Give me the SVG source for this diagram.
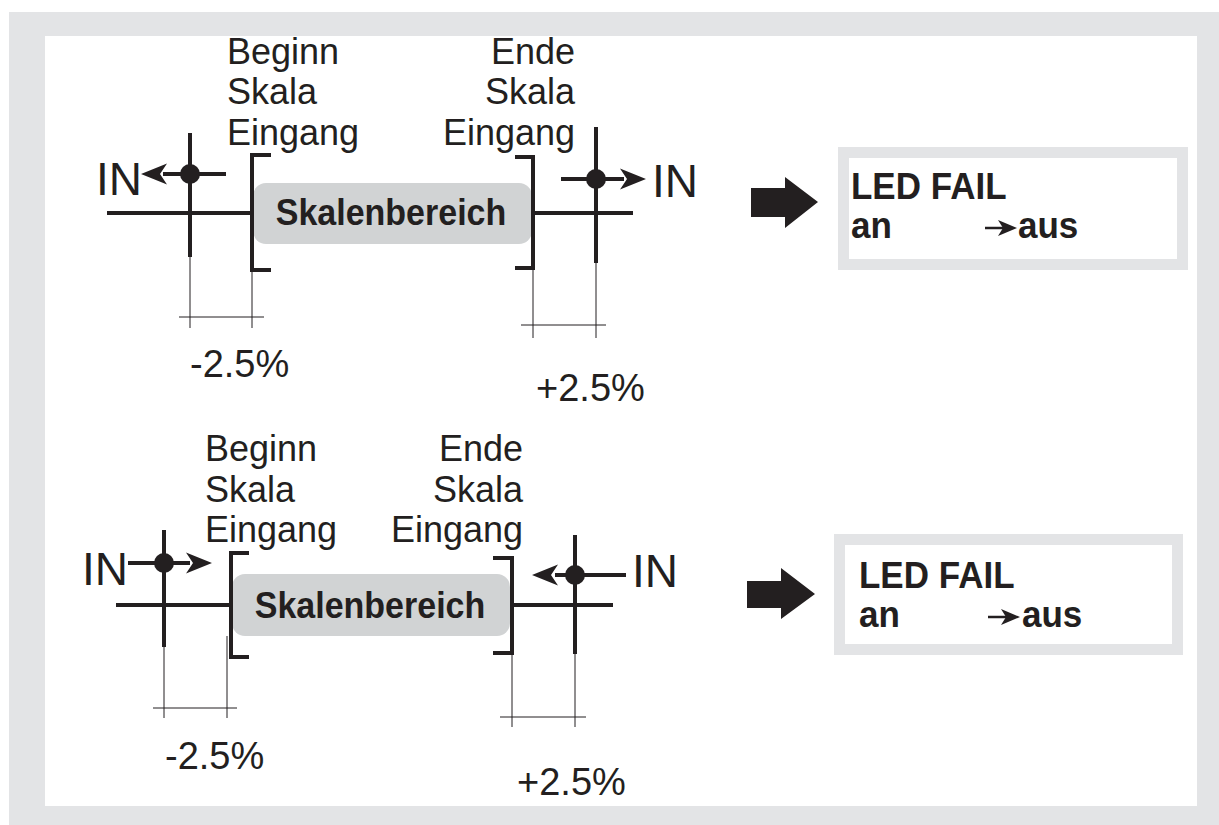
<svg xmlns="http://www.w3.org/2000/svg" xmlns:xlink="http://www.w3.org/1999/xlink" width="1219" height="825" viewBox="0 0 1219 825">
<style>
.lbl{font-family:"Liberation Sans",Arial,sans-serif;font-size:36px;fill:#231f20}
.pct{font-family:"Liberation Sans",Arial,sans-serif;font-size:38px;fill:#231f20}
.in{font-family:"Liberation Sans",Arial,sans-serif;font-size:46px;fill:#231f20}
.bold{font-family:"Liberation Sans",Arial,sans-serif;font-weight:bold;fill:#231f20}
.thick{stroke:#231f20;stroke-width:4;fill:none}
.thin{stroke:#231f20;stroke-width:1;fill:none}
.frame{fill:#ffffff;stroke:#e3e4e6;stroke-width:11}
.band{fill:#d1d3d4}
</style>
<defs>
<path id="ah" d="M0,0 L-26,-10.5 L-19,0 L-26,10.5 Z" fill="#231f20"/>
<path id="ahs" d="M0,0 L-19,-8 L-14,0 L-19,8 Z" fill="#231f20"/>
</defs>
<rect x="9" y="12" width="1210" height="813" fill="#e3e4e6"/>
<rect x="45" y="36" width="1152" height="770" fill="#ffffff"/>

<g id="top-range">
<rect class="band" x="253" y="183" width="279" height="61" rx="13"/>
<text class="bold" transform="translate(391,225) scale(1,1.08)" font-size="34" text-anchor="middle">Skalenbereich</text>
<path class="thick" d="M271,155 H252 V270 H271"/>
<path class="thick" d="M515,157 H533 V268 H515"/>
</g>
<g id="top-labels">
<text class="lbl" x="227" y="64">Beginn</text>
<text class="lbl" x="227" y="104">Skala</text>
<text class="lbl" x="227" y="145">Eingang</text>
<text class="lbl" x="575" y="64" text-anchor="end">Ende</text>
<text class="lbl" x="575" y="104" text-anchor="end">Skala</text>
<text class="lbl" x="575" y="145" text-anchor="end">Eingang</text>
<text class="pct" x="190" y="377">-2.5%</text>
<text class="pct" x="536" y="401">+2.5%</text>
</g>
<g id="top-in-left">
<text class="in" x="96" y="195">IN</text>
<circle cx="190" cy="174" r="10" fill="#231f20"/>
</g>
<g id="top-in-right">
<text class="in" x="652" y="197">IN</text>
<circle cx="596" cy="179" r="10" fill="#231f20"/>
</g>

<g id="bottom-range">
<rect class="band" x="232" y="574" width="278" height="62" rx="13"/>
<text class="bold" transform="translate(370,618) scale(1,1.08)" font-size="34" text-anchor="middle">Skalenbereich</text>
<path class="thick" d="M249,553 H231 V657 H249"/>
<path class="thick" d="M493,558 H512 V653 H493"/>
</g>
<g id="bottom-labels">
<text class="lbl" x="205" y="461">Beginn</text>
<text class="lbl" x="205" y="502">Skala</text>
<text class="lbl" x="205" y="542">Eingang</text>
<text class="lbl" x="523" y="461" text-anchor="end">Ende</text>
<text class="lbl" x="523" y="502" text-anchor="end">Skala</text>
<text class="lbl" x="523" y="542" text-anchor="end">Eingang</text>
<text class="pct" x="165" y="769">-2.5%</text>
<text class="pct" x="517" y="795">+2.5%</text>
</g>
<g id="bottom-in-left">
<text class="in" x="82" y="585">IN</text>
<circle cx="164" cy="563" r="10" fill="#231f20"/>
</g>
<g id="bottom-in-right">
<text class="in" x="632" y="587">IN</text>
<circle cx="575" cy="575" r="10" fill="#231f20"/>
</g>

<g id="led-top">
<rect class="frame" x="843.5" y="152.5" width="339" height="112"/>
<text class="bold" transform="translate(851,199) scale(1,1.05)" font-size="35">LED FAIL</text>
<text class="bold" transform="translate(851,238) scale(1,1.05)" font-size="35">an</text>
<text class="bold" transform="translate(1018,238) scale(1,1.05)" font-size="35">aus</text>
</g>
<g id="led-bottom">
<rect class="frame" x="839.5" y="539.5" width="338" height="110"/>
<text class="bold" transform="translate(859,588) scale(1,1.05)" font-size="35">LED FAIL</text>
<text class="bold" transform="translate(859,627) scale(1,1.05)" font-size="35">an</text>
<text class="bold" transform="translate(1022,627) scale(1,1.05)" font-size="35">aus</text>
</g>

<g id="connectors">
<!-- top left -->
<line class="thick" x1="190" y1="133" x2="190" y2="257"/>
<line class="thick" x1="107" y1="213" x2="252" y2="213"/>
<line class="thick" x1="163" y1="174" x2="226" y2="174"/>
<use xlink:href="#ah" transform="translate(141,174) rotate(180)"/>
<line class="thin" x1="190" y1="257" x2="190" y2="328"/>
<line class="thin" x1="252" y1="270" x2="252" y2="328"/>
<line class="thin" x1="179" y1="317" x2="264" y2="317"/>
<!-- top right -->
<line class="thick" x1="596" y1="127" x2="596" y2="263"/>
<line class="thick" x1="533" y1="213" x2="633" y2="213"/>
<line class="thick" x1="561" y1="179" x2="624" y2="179"/>
<use xlink:href="#ah" transform="translate(646,179)"/>
<line class="thin" x1="533" y1="268" x2="533" y2="338"/>
<line class="thin" x1="596" y1="263" x2="596" y2="338"/>
<line class="thin" x1="521" y1="325" x2="606" y2="325"/>
<!-- top big arrow and LED arrow -->
<polygon points="751,188 785,188 785,177 818,202 785,228 785,217 751,217" fill="#231f20"/>
<line x1="985" y1="228" x2="1004" y2="228" stroke="#231f20" stroke-width="2.5"/>
<use xlink:href="#ahs" transform="translate(1017,228)"/>
<!-- bottom left -->
<line class="thick" x1="164" y1="530" x2="164" y2="647"/>
<line class="thick" x1="116" y1="605" x2="231" y2="605"/>
<line class="thick" x1="128" y1="563" x2="190" y2="563"/>
<use xlink:href="#ah" transform="translate(212,563)"/>
<line class="thin" x1="164" y1="647" x2="164" y2="718"/>
<line class="thin" x1="227" y1="636" x2="227" y2="718"/>
<line class="thin" x1="153" y1="708" x2="237" y2="708"/>
<!-- bottom right -->
<line class="thick" x1="575" y1="535" x2="575" y2="654"/>
<line class="thick" x1="512" y1="605" x2="613" y2="605"/>
<line class="thick" x1="555" y1="575" x2="626" y2="575"/>
<use xlink:href="#ah" transform="translate(532,575) rotate(180)"/>
<line class="thin" x1="512" y1="653" x2="512" y2="727"/>
<line class="thin" x1="575" y1="654" x2="575" y2="727"/>
<line class="thin" x1="500" y1="717" x2="586" y2="717"/>
<!-- bottom big arrow and LED arrow -->
<polygon points="747,581 781,581 781,568 815,594 781,619 781,608 747,608" fill="#231f20"/>
<line x1="988" y1="617" x2="1007" y2="617" stroke="#231f20" stroke-width="2.5"/>
<use xlink:href="#ahs" transform="translate(1020,617)"/>
</g>
</svg>
